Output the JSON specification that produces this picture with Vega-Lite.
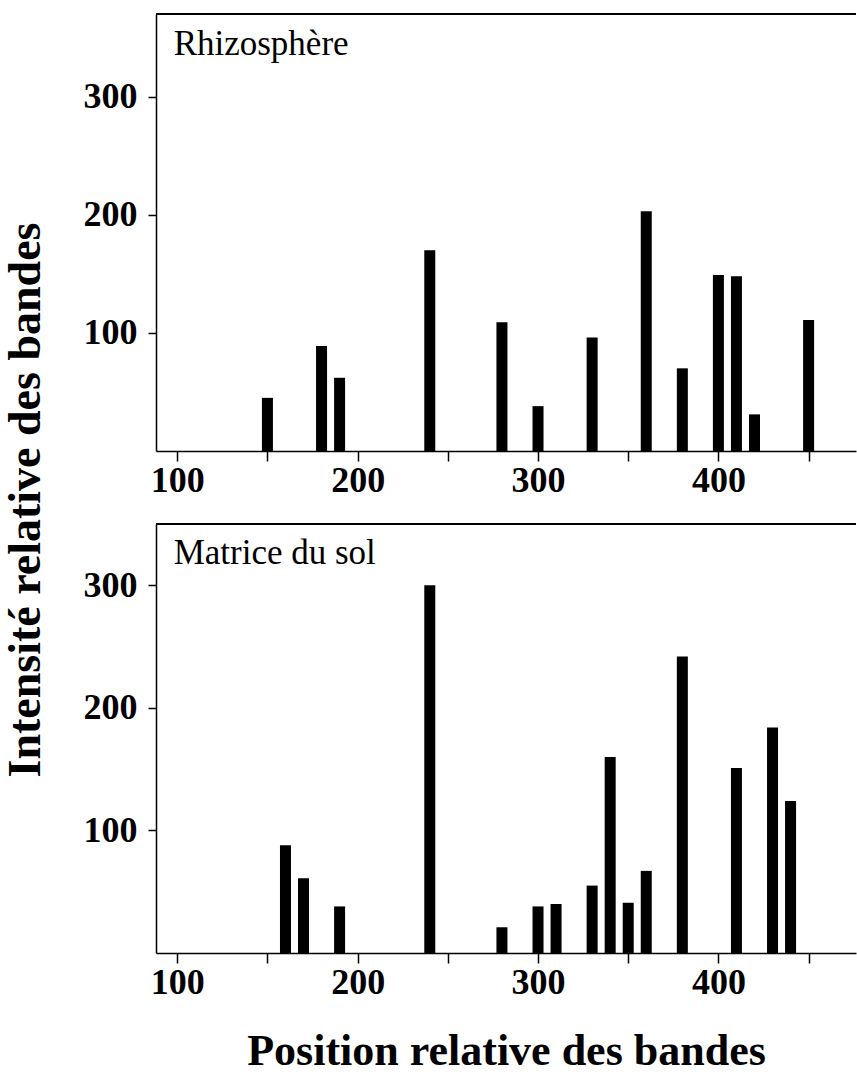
{
  "$schema": "https://vega.github.io/schema/vega-lite/v6.json",
  "padding": {"left": 2, "top": 13, "right": 0, "bottom": 0},
  "background": "white",
  "title": {"text": "Intensité relative des bandes", "orient": "left", "anchor": "middle", "font": "Liberation Serif", "fontSize": 46, "fontWeight": "bold", "color": "black", "offset": 33, "dx": 43},
  "config": {
    "view": {"stroke": null},
    "axis": {"labelFont": "Liberation Serif", "labelFontWeight": "bold", "labelFontSize": 36, "labelColor": "black", "tickColor": "black", "domainColor": "black", "domainWidth": 1.5, "tickWidth": 1.5, "grid": false, "titleFont": "Liberation Serif", "titleFontWeight": "bold", "titleColor": "black"}
  },
  "datasets": {
    "rhizo": [
      {"position": 150, "intensity": 45},
      {"position": 180, "intensity": 89},
      {"position": 190, "intensity": 62},
      {"position": 240, "intensity": 170},
      {"position": 280, "intensity": 109},
      {"position": 300, "intensity": 38},
      {"position": 330, "intensity": 96},
      {"position": 360, "intensity": 203},
      {"position": 380, "intensity": 70},
      {"position": 400, "intensity": 149},
      {"position": 410, "intensity": 148},
      {"position": 420, "intensity": 31},
      {"position": 450, "intensity": 111}
    ],
    "sol": [
      {"position": 160, "intensity": 88},
      {"position": 170, "intensity": 61},
      {"position": 190, "intensity": 38},
      {"position": 240, "intensity": 300},
      {"position": 280, "intensity": 21},
      {"position": 300, "intensity": 38},
      {"position": 310, "intensity": 40},
      {"position": 330, "intensity": 55},
      {"position": 340, "intensity": 160},
      {"position": 350, "intensity": 41},
      {"position": 360, "intensity": 67},
      {"position": 380, "intensity": 242},
      {"position": 410, "intensity": 151},
      {"position": 430, "intensity": 184},
      {"position": 440, "intensity": 124}
    ]
  },
  "spacing": 25,
  "vconcat": [
    {
      "width": 700,
      "height": 437,
      "layer": [
        {
          "data": {"name": "rhizo"},
          "mark": {"type": "bar", "color": "black", "size": 11},
          "encoding": {
            "x": {"field": "position", "type": "quantitative", "scale": {"domain": [91, 473.5], "nice": false, "zero": false},
                  "axis": {"title": null, "values": [100, 150, 200, 250, 300, 350, 400, 450], "labelExpr": "datum.value % 100 === 0 ? datum.label : ''", "tickSize": 10, "labelPadding": 2}},
            "y": {"field": "intensity", "type": "quantitative", "scale": {"domain": [0, 370], "nice": false},
                  "axis": {"title": null, "values": [100, 200, 300], "tickSize": 8, "labelPadding": 11}}
          }
        },
        {
          "data": {"values": [{}]},
          "mark": {"type": "rule", "color": "black", "strokeWidth": 2},
          "encoding": {"y": {"datum": 370}}
        },
        {
          "data": {"values": [{}]},
          "mark": {"type": "text", "text": "Rhizosphère", "font": "Liberation Serif", "fontSize": 35, "align": "left", "baseline": "alphabetic", "color": "black"},
          "encoding": {"x": {"datum": 98}, "y": {"datum": 335}}
        }
      ]
    },
    {
      "width": 700,
      "height": 429,
      "layer": [
        {
          "data": {"name": "sol"},
          "mark": {"type": "bar", "color": "black", "size": 11},
          "encoding": {
            "x": {"field": "position", "type": "quantitative", "scale": {"domain": [91, 473.5], "nice": false, "zero": false},
                  "axis": {"title": "Position relative des bandes", "titleFontSize": 44, "titlePadding": 29, "values": [100, 150, 200, 250, 300, 350, 400, 450], "labelExpr": "datum.value % 100 === 0 ? datum.label : ''", "tickSize": 10, "labelPadding": 2}},
            "y": {"field": "intensity", "type": "quantitative", "scale": {"domain": [0, 350], "nice": false},
                  "axis": {"title": null, "values": [100, 200, 300], "tickSize": 8, "labelPadding": 11}}
          }
        },
        {
          "data": {"values": [{}]},
          "mark": {"type": "rule", "color": "black", "strokeWidth": 2},
          "encoding": {"y": {"datum": 350}}
        },
        {
          "data": {"values": [{}]},
          "mark": {"type": "text", "text": "Matrice du sol", "font": "Liberation Serif", "fontSize": 35, "align": "left", "baseline": "alphabetic", "color": "black"},
          "encoding": {"x": {"datum": 98}, "y": {"datum": 317}}
        }
      ]
    }
  ]
}
